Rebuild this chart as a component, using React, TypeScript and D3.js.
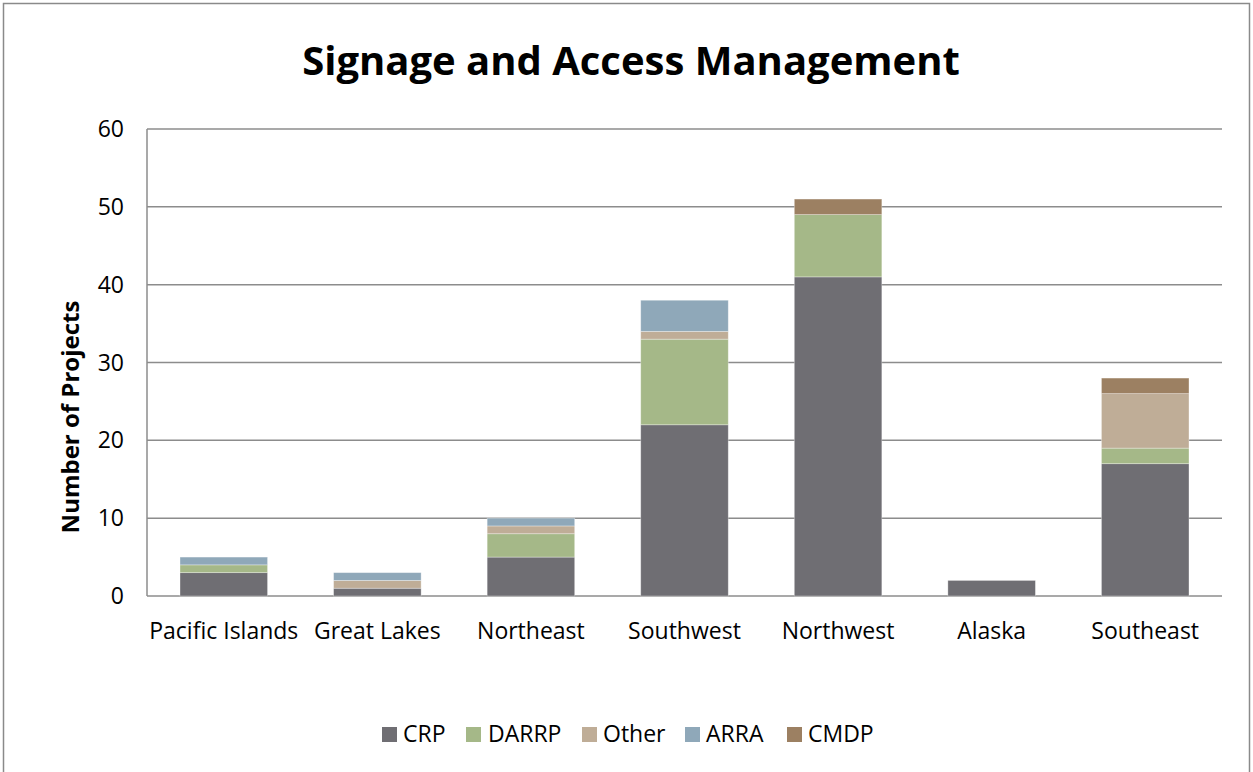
import React, { useEffect } from "react";
import * as d3 from "d3";

const categories = ["Pacific Islands", "Great Lakes", "Northeast", "Southwest", "Northwest", "Alaska", "Southeast"];
const seriesNames = ["CRP", "DARRP", "Other", "ARRA", "CMDP"];
const crp = [3, 1, 5, 22, 41, 2, 17];
const darrp = [1, 0, 3, 11, 8, 0, 2];
const other = [0, 1, 1, 1, 0, 0, 7];
const arra = [1, 1, 1, 4, 0, 0, 0];
const cmdp = [0, 0, 0, 0, 2, 0, 2];
const yTicks = [0, 10, 20, 30, 40, 50, 60];
const colors = ["#6f6e73", "#a5b888", "#bfad97", "#8fa8b9", "#9c8062"];

const W = 1253;
const H = 772;
const left = 147;
const right = 1222;
const top = 129;
const bottom = 596;
const font = "'Open Sans', 'DejaVu Sans', sans-serif";

export default function App() {
  useEffect(() => {
    document.body.style.margin = "0";
  }, []);
  const values = [crp, darrp, other, arra, cmdp];
  const rows = categories.map((c, i) => {
    const r: any = { cat: c };
    seriesNames.forEach((s, k) => (r[s] = values[k][i]));
    return r;
  });
  const stacked = d3.stack().keys(seriesNames)(rows);
  const x = d3.scaleBand().domain(categories).range([left, right]).paddingInner(0.43).paddingOuter(0.215);
  const y = d3.scaleLinear().domain([0, 60]).range([bottom, top]);

  const legendX = [382, 466, 582, 685, 787];
  const legendTextX = [403, 488, 603, 706, 808];

  return (
    <svg width={W} height={H} style={{ display: "block", fontFamily: font }}>
      <rect x={0} y={0} width={W} height={H} fill="#fff" />
      <rect x={3.5} y={3.5} width={W - 7} height={H + 10} fill="none" stroke="#8a8a8a" strokeWidth={1.5} />
      <text x={631} y={75} textAnchor="middle" fontSize={40} fontWeight="bold" fill="#000">
        Signage and Access Management
      </text>
      {yTicks.map((t) => (
        <g key={t}>
          <line x1={left} x2={right} y1={y(t)} y2={y(t)} stroke="#8c8c8c" strokeWidth={1.5} />
          <text x={124} y={y(t) + 8} textAnchor="end" fontSize={23} fill="#000">
            {t}
          </text>
        </g>
      ))}
      <line x1={left} x2={left} y1={top} y2={bottom} stroke="#8c8c8c" strokeWidth={1.5} />
      {stacked.map((layer, k) => (
        <g key={layer.key} fill={colors[k]}>
          {layer.map((d, i) =>
            d[1] - d[0] > 0 ? (
              <rect
                key={i}
                x={x(categories[i])}
                width={x.bandwidth()}
                y={y(d[1])}
                height={y(d[0]) - y(d[1])}
                stroke="#ffffff"
                strokeOpacity={0.4}
                strokeWidth={0.8}
              />
            ) : null
          )}
        </g>
      ))}
      {categories.map((c) => (
        <text key={c} x={(x(c) as number) + x.bandwidth() / 2} y={639} textAnchor="middle" fontSize={23} fill="#000">
          {c}
        </text>
      ))}
      <text
        transform={`translate(79,417) rotate(-90)`}
        textAnchor="middle"
        fontSize={24}
        fontWeight="bold"
        fill="#000"
      >
        Number of Projects
      </text>
      {seriesNames.map((s, k) => (
        <g key={s}>
          <rect x={legendX[k]} y={727} width={15} height={15} fill={colors[k]} />
          <text x={legendTextX[k]} y={742} fontSize={23} fill="#000">
            {s}
          </text>
        </g>
      ))}
    </svg>
  );
}
